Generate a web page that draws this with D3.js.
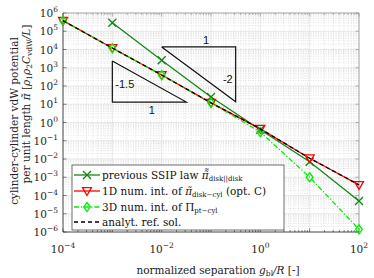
<!DOCTYPE html>
<html>
<head>
<meta charset="utf-8">
<script src="https://cdn.jsdelivr.net/npm/d3@7"></script>
<style>
  body { margin: 0; background: #fff; }
</style>
</head>
<body>
<div class="chart"></div>
<script>
// separation g_bl/R
const gap = [1e-4, 1e-3, 1e-2, 1e-1, 1, 10, 100];
// previous SSIP law (no value at 1e-4)
const ssip = [null, 2.9e5, 2.6e3, 25, 0.4, 7e-3, 5e-5];
// 1D num. int. (opt. C)
const num1d = [3.8e5, 1.2e4, 400, 12, 0.45, 1.1e-2, 3.8e-4];
// 3D num. int.
const num3d = [3.8e5, 1.2e4, 400, 12, 0.3, 1e-3, 1.4e-6];
// analytical reference
const analyt = [3.8e5, 1.2e4, 400, 12, 0.45, 1.1e-2, 3.8e-4];

const xTickVals = [1e-4, 1e-2, 1, 1e2];
const yTickExp = [6, 5, 4, 3, 2, 1, 0, -1, -2, -3, -4, -5, -6];

// slope triangles: [x0, x1, yLow, yHigh]
const tri15 = [1e-3, Math.pow(10, -1.5), Math.pow(10, 1.12), Math.pow(10, 3.37)];
const tri2 = [1e-2, Math.pow(10, -0.5), Math.pow(10, 1.14), Math.pow(10, 4.14)];

const width = 374, height = 278;
const m = {left: 63, right: 15, top: 13, bottom: 46};
const iw = width - m.left - m.right, ih = height - m.top - m.bottom;
const serif = "'DejaVu Serif', serif";

const svg = d3.select(".chart").append("svg")
    .attr("width", width)
    .attr("height", height)
    .attr("font-family", serif);

const x = d3.scaleLog().domain([1e-4, 1e2]).range([m.left, m.left + iw]);
const y = d3.scaleLog().domain([1e-6, 1e6]).range([m.top + ih, m.top]);

const g = svg.append("g");

// minor grid
let minorX = [], minorY = [];
for (let e = -4; e < 2; e++) for (let k = 2; k < 10; k++) minorX.push(k * Math.pow(10, e));
for (let e = -6; e < 6; e++) for (let k = 2; k < 10; k++) minorY.push(k * Math.pow(10, e));

g.selectAll(".mx").data(minorX).join("line")
    .attr("x1", d => x(d)).attr("x2", d => x(d))
    .attr("y1", m.top).attr("y2", m.top + ih)
    .attr("stroke", "#d4d4d4").attr("stroke-width", 0.6).attr("stroke-dasharray", "1,1.5");
g.selectAll(".my").data(minorY).join("line")
    .attr("y1", d => y(d)).attr("y2", d => y(d))
    .attr("x1", m.left).attr("x2", m.left + iw)
    .attr("stroke", "#d4d4d4").attr("stroke-width", 0.6).attr("stroke-dasharray", "1,1.5");

// major grid
const majorX = d3.range(-4, 3).map(e => Math.pow(10, e));
g.selectAll(".gx").data(majorX).join("line")
    .attr("x1", d => x(d)).attr("x2", d => x(d))
    .attr("y1", m.top).attr("y2", m.top + ih)
    .attr("stroke", "#e2e2e2").attr("stroke-width", 0.8);
g.selectAll(".gy").data(yTickExp).join("line")
    .attr("y1", d => y(Math.pow(10, d))).attr("y2", d => y(Math.pow(10, d)))
    .attr("x1", m.left).attr("x2", m.left + iw)
    .attr("stroke", "#e2e2e2").attr("stroke-width", 0.8);

// tick marks inside, all four sides
function ticks(vals, scale, horiz, len, col) {
    vals.forEach(v => {
        const p = scale(v);
        if (horiz) {
            g.append("line").attr("x1", p).attr("x2", p).attr("y1", m.top + ih).attr("y2", m.top + ih - len).attr("stroke", "#333").attr("stroke-width", 0.6);
            g.append("line").attr("x1", p).attr("x2", p).attr("y1", m.top).attr("y2", m.top + len).attr("stroke", col).attr("stroke-width", 0.6);
        } else {
            g.append("line").attr("y1", p).attr("y2", p).attr("x1", m.left).attr("x2", m.left + len).attr("stroke", "#333").attr("stroke-width", 0.6);
            g.append("line").attr("y1", p).attr("y2", p).attr("x1", m.left + iw).attr("x2", m.left + iw - len).attr("stroke", col).attr("stroke-width", 0.6);
        }
    });
}
ticks(majorX, x, true, 3.5, "#888");
ticks(minorX, x, true, 2, "#888");
ticks(yTickExp.map(e => Math.pow(10, e)), y, false, 3.5, "#888");

// frame
g.append("line").attr("x1", m.left).attr("x2", m.left + iw).attr("y1", m.top).attr("y2", m.top).attr("stroke", "#999").attr("stroke-width", 0.8);
g.append("line").attr("x1", m.left + iw).attr("x2", m.left + iw).attr("y1", m.top).attr("y2", m.top + ih).attr("stroke", "#999").attr("stroke-width", 0.8);
g.append("line").attr("x1", m.left).attr("x2", m.left + iw).attr("y1", m.top + ih).attr("y2", m.top + ih).attr("stroke", "#262626").attr("stroke-width", 0.8);
g.append("line").attr("x1", m.left).attr("x2", m.left).attr("y1", m.top).attr("y2", m.top + ih).attr("stroke", "#262626").attr("stroke-width", 0.8);

// tick labels
function powLabel(sel, exp) {
    sel.append("tspan").text("10");
    sel.append("tspan").attr("dy", -5).style("font-size", "7.5px").text(exp < 0 ? "\u2212" + (-exp) : exp);
}
xTickVals.forEach(v => {
    const t = svg.append("text").attr("x", x(v)).attr("y", 253)
        .attr("text-anchor", "middle").style("font-size", "10.5px").attr("fill", "#222");
    powLabel(t, Math.round(Math.log10(v)));
});
yTickExp.forEach(e => {
    const t = svg.append("text").attr("x", 58).attr("y", y(Math.pow(10, e)) + 4)
        .attr("text-anchor", "end").style("font-size", "10.5px").attr("fill", "#222");
    powLabel(t, e);
});

// axis labels
const xl = svg.append("text").attr("x", 218).attr("y", 274).attr("text-anchor", "middle")
    .style("font-size", "10.5px").attr("fill", "#222");
xl.append("tspan").text("normalized separation ");
xl.append("tspan").style("font-style", "italic").text("g");
xl.append("tspan").attr("dy", 2).style("font-size", "7.5px").text("bl");
xl.append("tspan").attr("dy", -2).style("font-style", "italic").text("/R");
xl.append("tspan").text(" [-]");

svg.append("text").attr("transform", "translate(18,121) rotate(-90)")
    .attr("text-anchor", "middle").style("font-size", "10.5px").attr("fill", "#222")
    .text("cylinder-cylinder vdW potential");
const yl2 = svg.append("text").attr("transform", "translate(30,104) rotate(-90)")
    .attr("text-anchor", "middle").style("font-size", "10.5px").attr("fill", "#222");
yl2.append("tspan").text("per unit length ");
yl2.append("tspan").style("font-style", "italic").text("\u03C0\u0303");
yl2.append("tspan").text(" [");
yl2.append("tspan").style("font-style", "italic").text("\u03C1");
yl2.append("tspan").attr("dy", 2).style("font-size", "7.5px").text("1");
yl2.append("tspan").attr("dy", -2).style("font-style", "italic").text("\u03C1");
yl2.append("tspan").attr("dy", 2).style("font-size", "7.5px").text("2");
yl2.append("tspan").attr("dy", -2).style("font-style", "italic").text("C");
yl2.append("tspan").attr("dy", 2).style("font-size", "7.5px").text("vdW");
yl2.append("tspan").attr("dy", -2).style("font-style", "italic").text("/L");
yl2.append("tspan").text("]");

// slope triangles
const triG = svg.append("g").attr("fill", "none").attr("stroke", "#111").attr("stroke-width", 1.2);
triG.append("path").attr("d", d3.line()([
    [x(tri15[0]), y(tri15[3])], [x(tri15[0]), y(tri15[2])], [x(tri15[1]), y(tri15[2])], [x(tri15[0]), y(tri15[3])]
]));
triG.append("path").attr("d", d3.line()([
    [x(tri2[0]), y(tri2[3])], [x(tri2[1]), y(tri2[3])], [x(tri2[1]), y(tri2[2])], [x(tri2[0]), y(tri2[3])]
]));
const sans = "'Liberation Sans', Arial, sans-serif";
function triLabel(px, py, anchor, txt) {
    svg.append("text").attr("x", px).attr("y", py).attr("text-anchor", anchor)
        .attr("font-family", sans).style("font-size", "11px").attr("fill", "#111").text(txt);
}
triLabel(x(tri15[0]) + 3, y(Math.pow(10, 2.1)) + 4, "start", "-1.5");
triLabel(x(Math.pow(10, -2.2)), y(tri15[2]) + 12, "middle", "1");
triLabel(x(Math.pow(10, -1.1)), y(tri2[3]) - 3, "middle", "1");
triLabel(x(tri2[1]) - 3, y(Math.pow(10, 2.4)) + 4, "end", "-2");

// series
const series = [
    {name: "ssip", vals: ssip, color: "#118811", dash: null, marker: "x"},
    {name: "num1d", vals: num1d, color: "#ff0000", dash: null, marker: "tri"},
    {name: "num3d", vals: num3d, color: "#00ee00", dash: "5,2,1.2,2", marker: "diamond"},
    {name: "analyt", vals: analyt, color: "#000", dash: "4,3", marker: null}
];

const line = d3.line()
    .defined(d => d[1] != null)
    .x(d => x(d[0]))
    .y(d => y(d[1]));

function drawMarker(sel, type, cx, cy, color) {
    if (type === "x") {
        const s = 4;
        sel.append("path").attr("d", `M${cx - s},${cy - s}L${cx + s},${cy + s}M${cx - s},${cy + s}L${cx + s},${cy - s}`)
            .attr("stroke", color).attr("stroke-width", 1.3).attr("fill", "none");
    } else if (type === "tri") {
        const s = 4.5;
        sel.append("path").attr("d", `M${cx - s},${cy - s * 0.75}L${cx + s},${cy - s * 0.75}L${cx},${cy + s}Z`)
            .attr("stroke", color).attr("stroke-width", 1.3).attr("fill", "none");
    } else if (type === "diamond") {
        const s = 4.5;
        sel.append("path").attr("d", `M${cx},${cy - s}L${cx + s * 0.75},${cy}L${cx},${cy + s}L${cx - s * 0.75},${cy}Z`)
            .attr("stroke", color).attr("stroke-width", 1.3).attr("fill", "none");
    }
}

const plotG = svg.append("g");
series.forEach(s => {
    const pts = gap.map((gv, i) => [gv, s.vals[i]]);
    plotG.append("path").datum(pts)
        .attr("d", line)
        .attr("fill", "none")
        .attr("stroke", s.color)
        .attr("stroke-width", 1.3)
        .attr("stroke-dasharray", s.dash);
    if (s.marker) {
        pts.filter(p => p[1] != null).forEach(p => drawMarker(plotG, s.marker, x(p[0]), y(p[1]), s.color));
    }
});

// legend
const lg = svg.append("g");
lg.append("rect").attr("x", 72).attr("y", 165).attr("width", 212).attr("height", 65)
    .attr("fill", "#fff").attr("stroke", "#333").attr("stroke-width", 0.7);
const rows = [175, 191, 207, 222];
series.forEach((s, i) => {
    const ry = rows[i];
    lg.append("line").attr("x1", 74).attr("x2", 100).attr("y1", ry).attr("y2", ry)
        .attr("stroke", s.color).attr("stroke-width", 1.3).attr("stroke-dasharray", s.dash);
    if (s.marker) drawMarker(lg, s.marker, 87, ry, s.color);
});
function legText(ry) {
    return lg.append("text").attr("x", 102).attr("y", ry + 4).style("font-size", "10.5px").attr("fill", "#111");
}
let t = legText(rows[0]);
t.append("tspan").text("previous SSIP law ");
t.append("tspan").style("font-style", "italic").text("\u03C0\u0303\u0303");
t.append("tspan").attr("dy", 2).style("font-size", "7px").text("disk||disk");
t = legText(rows[1]);
t.append("tspan").text("1D num. int. of ");
t.append("tspan").style("font-style", "italic").text("\u03C0\u0303");
t.append("tspan").attr("dy", 2).style("font-size", "7px").text("disk\u2212cyl");
t.append("tspan").attr("dy", -2).text(" (opt. C)");
t = legText(rows[2]);
t.append("tspan").text("3D num. int. of \u03A0");
t.append("tspan").attr("dy", 2).style("font-size", "7px").text("pt\u2212cyl");
t = legText(rows[3]);
t.append("tspan").text("analyt. ref. sol.");
</script>
</body>
</html>
